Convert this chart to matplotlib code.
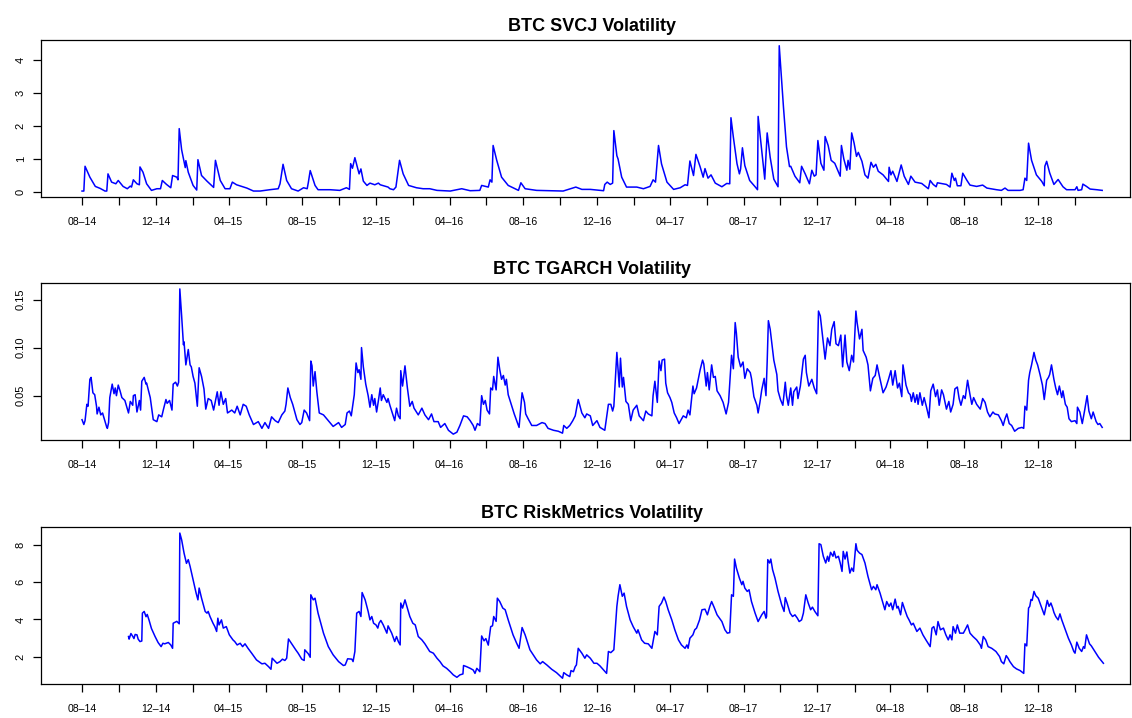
import numpy as np
import pandas as pd
import matplotlib
matplotlib.use("Agg")
import matplotlib.pyplot as plt

plt.rcParams['font.family'] = ['Liberation Sans', 'DejaVu Sans']

# day offset from 2014-08-01, volatility value
start = np.datetime64('2014-08-01')

svcj = [(0,0.03),(3,0.03),(5,0.78),(13,0.45),(22,0.17),(30,0.11),(38,0.03),(41,0.03),(43,0.55),(49,0.30),
        (56,0.25),(60,0.35),(68,0.17),(75,0.10),(80,0.18),(82,0.15),(85,0.37),(91,0.25),(95,0.22),(96,0.76),
        (101,0.60),(107,0.25),(115,0.05),(124,0.10),(130,0.10),(133,0.35),(140,0.23),(147,0.13),(150,0.50),(157,0.45),
        (159,0.37),(161,1.92),(165,1.28),(171,0.74),(172,0.95),(176,0.60),(184,0.20),(190,0.06),(192,0.98),(198,0.50),
        (207,0.33),(218,0.14),(221,0.96),(229,0.35),(237,0.10),(245,0.10),(249,0.30),(256,0.22),(273,0.12),(284,0.03),
        (295,0.03),(311,0.07),(325,0.10),(328,0.25),(333,0.84),(339,0.35),(347,0.10),(358,0.03),(367,0.13),(373,0.10),
        (375,0.30),(378,0.65),(386,0.20),(391,0.07),(411,0.07),(427,0.05),(438,0.13),(443,0.08),(445,0.86),(448,0.72),
        (452,1.04),(459,0.55),(462,0.70),(466,0.33),(472,0.20),(477,0.27),(485,0.22),(491,0.27),(494,0.22),(507,0.15),
        (510,0.10),(516,0.07),(520,0.15),(526,0.96),(532,0.55),(541,0.20),(554,0.13),(565,0.10),(576,0.10),(588,0.05),
        (610,0.03),(629,0.10),(643,0.04),(659,0.05),(662,0.20),(673,0.15),(676,0.37),(679,0.30),(681,1.41),(687,0.96),
        (695,0.45),(706,0.20),(723,0.05),(727,0.28),(734,0.10),(753,0.05),(775,0.04),(797,0.03),(818,0.15),(828,0.08),
        (842,0.08),(864,0.04),(866,0.23),(870,0.30),(875,0.23),(879,0.27),(881,1.86),(886,1.10),(888,1.00),(894,0.45),
        (902,0.15),(919,0.15),(930,0.10),(941,0.17),(946,0.37),(950,0.30),(955,1.41),(960,0.85),(969,0.30),(980,0.08),
        (991,0.13),(999,0.22),(1003,0.20),(1007,0.94),(1013,0.50),(1017,1.14),(1024,0.76),(1029,0.45),(1032,0.71),(1037,0.42),
        (1042,0.52),(1049,0.27),(1060,0.16),(1068,0.26),(1073,0.25),(1075,2.25),(1079,1.66),(1085,0.86),(1089,0.55),(1091,0.70),
        (1094,1.34),(1098,0.80),(1106,0.35),(1115,0.16),(1119,0.07),(1120,2.29),(1126,1.26),(1131,0.39),(1135,1.79),(1140,1.05),
        (1146,0.39),(1153,0.16),(1155,4.43),(1162,2.57),(1167,1.37),(1172,0.77),(1174,0.78),(1181,0.48),(1189,0.28),(1192,0.78),
        (1198,0.55),(1205,0.25),(1209,0.66),(1213,0.48),(1216,0.52),(1219,1.56),(1224,0.87),(1229,0.66),(1231,1.68),(1236,1.41),
        (1241,0.96),(1247,0.87),(1256,0.48),(1258,1.41),(1262,1.00),(1267,0.66),(1269,0.96),(1272,0.69),(1275,1.79),(1279,1.48),
        (1283,1.08),(1286,1.20),(1292,0.93),(1297,0.52),(1302,0.42),(1307,0.90),(1311,0.75),(1315,0.84),(1319,0.63),(1327,0.52),
        (1336,0.32),(1337,0.75),(1340,0.52),(1343,0.63),(1350,0.32),(1357,0.82),(1362,0.48),(1369,0.23),(1373,0.48),(1380,0.30),
        (1391,0.26),(1402,0.10),(1405,0.35),(1410,0.23),(1415,0.16),(1417,0.28),(1432,0.23),(1438,0.15),(1441,0.57),(1445,0.35),
        (1447,0.42),(1450,0.19),(1456,0.19),(1459,0.57),(1466,0.35),(1471,0.21),(1482,0.17),(1492,0.21),(1499,0.12),(1515,0.07),
        (1523,0.05),(1529,0.12),(1534,0.05),(1554,0.05),(1559,0.07),(1562,0.42),(1565,0.35),(1568,1.48),(1573,0.96),(1581,0.52),
        (1590,0.32),(1594,0.19),(1595,0.78),(1598,0.93),(1603,0.58),(1610,0.23),(1617,0.38),(1625,0.16),(1631,0.07),(1645,0.07),
        (1648,0.16),(1650,0.05),(1656,0.07),(1658,0.24),(1664,0.17),(1670,0.09),(1681,0.07),(1690,0.05)]

tgarch = [(0,0.025),(3,0.020),(5,0.024),(8,0.041),(10,0.039),(13,0.067),(15,0.069),(18,0.053),(21,0.051),(24,0.039),
          (25,0.031),(28,0.038),(31,0.030),(34,0.032),(41,0.017),(42,0.016),(44,0.022),(46,0.048),(50,0.062),(53,0.052),
          (55,0.058),(57,0.050),(60,0.061),(63,0.055),(66,0.048),(71,0.045),(77,0.032),(80,0.044),(84,0.040),(85,0.050),
          (88,0.051),(91,0.033),(95,0.045),(97,0.035),(99,0.065),(103,0.069),(106,0.062),(107,0.063),(113,0.048),(118,0.025),
          (124,0.023),(127,0.030),(132,0.028),(135,0.036),(139,0.046),(141,0.042),(145,0.045),(149,0.035),(151,0.062),(155,0.064),
          (158,0.060),(160,0.064),(162,0.161),(165,0.133),(168,0.103),(169,0.106),(172,0.082),(173,0.086),(176,0.098),(179,0.082),
          (181,0.080),(184,0.070),(187,0.063),(191,0.039),(194,0.079),(198,0.070),(202,0.057),(205,0.036),(209,0.047),(214,0.045),
          (218,0.035),(224,0.054),(227,0.040),(230,0.054),(234,0.041),(238,0.047),(241,0.032),(248,0.035),(253,0.032),(257,0.039),
          (262,0.030),(267,0.041),(272,0.039),(277,0.030),(284,0.020),(292,0.023),(298,0.016),(303,0.022),(309,0.016),(314,0.028),
          (320,0.024),(325,0.022),(331,0.030),(336,0.034),(338,0.041),(341,0.058),(345,0.048),(349,0.041),(356,0.025),(361,0.020),
          (364,0.022),(368,0.035),(372,0.032),(377,0.024),(379,0.086),(381,0.081),(383,0.060),(386,0.075),(389,0.054),(393,0.032),
          (400,0.030),(408,0.024),(416,0.018),(425,0.022),(430,0.017),(436,0.020),(439,0.032),(443,0.034),(446,0.029),(451,0.051),
          (454,0.084),(457,0.074),(459,0.077),(462,0.067),(463,0.100),(466,0.080),(470,0.062),(474,0.050),(477,0.038),(480,0.051),
          (483,0.040),(485,0.047),(488,0.033),(491,0.045),(494,0.058),(496,0.045),(499,0.051),(505,0.043),(507,0.047),(510,0.040),
          (518,0.024),(521,0.037),(524,0.029),(527,0.026),(528,0.076),(531,0.060),(535,0.081),(539,0.058),(543,0.039),(547,0.044),
          (550,0.037),(557,0.030),(563,0.037),(568,0.030),(574,0.025),(579,0.031),(583,0.023),(590,0.023),(594,0.017),(601,0.021),
          (607,0.014),(615,0.010),(621,0.012),(626,0.019),(632,0.029),(638,0.028),(643,0.024),(648,0.019),(651,0.014),(655,0.021),
          (659,0.019),(662,0.050),(665,0.041),(668,0.045),(671,0.035),(675,0.031),(677,0.058),(680,0.056),(682,0.070),(686,0.056),
          (689,0.090),(692,0.077),(695,0.067),(698,0.071),(701,0.061),(703,0.067),(706,0.051),(712,0.039),(716,0.031),(720,0.024),
          (724,0.017),(729,0.053),(733,0.043),(735,0.031),(739,0.026),(745,0.019),(753,0.019),(762,0.022),(767,0.021),(772,0.016),
          (781,0.014),(789,0.013),(796,0.011),(798,0.019),(803,0.016),(808,0.019),(813,0.024),(817,0.029),(822,0.046),(828,0.032),
          (833,0.027),(836,0.031),(842,0.029),(846,0.019),(853,0.024),(858,0.017),(866,0.014),(872,0.041),(876,0.041),(879,0.034),
          (881,0.039),(886,0.095),(890,0.059),(892,0.089),(895,0.059),(897,0.069),(901,0.044),(905,0.041),(909,0.024),(913,0.035),
          (919,0.040),(923,0.029),(930,0.024),(934,0.034),(938,0.031),(944,0.029),(946,0.050),(949,0.065),(953,0.043),(956,0.086),
          (959,0.076),(961,0.087),(965,0.088),(967,0.063),(970,0.053),(974,0.048),(977,0.043),(981,0.032),(985,0.027),(989,0.021),
          (996,0.029),(1001,0.027),(1004,0.035),(1007,0.030),(1012,0.060),(1014,0.052),(1018,0.058),(1024,0.077),(1028,0.087),(1030,0.083),
          (1034,0.060),(1036,0.074),(1039,0.056),(1043,0.082),(1046,0.069),(1049,0.070),(1052,0.055),(1057,0.050),(1062,0.043),(1067,0.031),
          (1071,0.043),(1076,0.092),(1079,0.078),(1082,0.126),(1084,0.115),(1087,0.090),(1091,0.080),(1095,0.085),(1098,0.068),(1102,0.078),
          (1107,0.074),(1109,0.068),(1113,0.049),(1118,0.040),(1120,0.032),(1123,0.043),(1126,0.056),(1130,0.068),(1133,0.050),(1135,0.085),
          (1137,0.128),(1140,0.119),(1143,0.103),(1146,0.087),(1151,0.072),(1153,0.055),(1157,0.046),(1161,0.040),(1165,0.064),(1167,0.050),
          (1170,0.040),(1174,0.058),(1177,0.040),(1179,0.054),(1184,0.059),(1186,0.047),(1190,0.060),(1195,0.088),(1198,0.092),(1200,0.074),
          (1204,0.060),(1209,0.067),(1213,0.058),(1217,0.052),(1220,0.138),(1223,0.133),(1227,0.110),(1231,0.088),(1235,0.110),(1239,0.102),
          (1242,0.119),(1246,0.127),(1249,0.104),(1253,0.102),(1257,0.113),(1260,0.080),(1264,0.113),(1267,0.085),(1271,0.076),(1275,0.092),
          (1278,0.085),(1282,0.138),(1284,0.126),(1288,0.109),(1292,0.119),(1294,0.097),(1299,0.090),(1302,0.082),(1306,0.055),(1310,0.068),
          (1314,0.071),(1317,0.082),(1321,0.070),(1327,0.053),(1332,0.059),(1336,0.067),(1340,0.076),(1343,0.061),(1347,0.076),(1351,0.058),
          (1354,0.063),(1358,0.049),(1360,0.082),(1365,0.061),(1369,0.053),(1372,0.051),(1374,0.044),(1377,0.053),(1380,0.043),(1383,0.051),
          (1385,0.041),(1388,0.053),(1392,0.040),(1395,0.048),(1399,0.038),(1403,0.027),(1406,0.055),(1410,0.062),(1414,0.049),(1417,0.056),
          (1420,0.040),(1424,0.056),(1427,0.051),(1432,0.036),(1436,0.044),(1439,0.033),(1443,0.041),(1446,0.057),(1450,0.059),(1453,0.047),
          (1456,0.040),(1460,0.050),(1463,0.047),(1467,0.066),(1471,0.051),(1474,0.041),(1477,0.048),(1482,0.041),(1488,0.036),(1492,0.047),
          (1496,0.043),(1500,0.033),(1504,0.028),(1509,0.033),(1512,0.031),(1518,0.030),(1523,0.024),(1526,0.019),(1529,0.026),(1532,0.031),
          (1536,0.021),(1540,0.019),(1545,0.013),(1551,0.016),(1557,0.017),(1560,0.016),(1562,0.039),(1565,0.035),(1568,0.066),(1570,0.074),
          (1573,0.082),(1577,0.095),(1580,0.087),(1583,0.082),(1587,0.072),(1591,0.061),(1594,0.046),(1598,0.066),(1601,0.069),(1603,0.072),
          (1606,0.082),(1610,0.067),(1613,0.058),(1616,0.051),(1619,0.060),(1623,0.048),(1625,0.055),(1629,0.041),(1632,0.038),(1635,0.026),
          (1639,0.023),(1645,0.024),(1648,0.021),(1649,0.038),(1653,0.033),(1657,0.021),(1661,0.035),(1665,0.050),(1668,0.034),(1672,0.026),
          (1675,0.033),(1680,0.023),(1683,0.020),(1686,0.021),(1690,0.017)]

riskmetrics = [(77,3.09),(78,2.95),(81,3.25),(84,3.10),(86,2.98),(88,3.20),(91,3.18),(93,2.95),(96,2.82),(99,2.85),
               (100,4.34),(103,4.43),(106,4.15),(108,4.27),(111,3.97),(115,3.52),(121,3.09),(126,2.77),(131,2.55),(134,2.73),
               (137,2.70),(143,2.77),(147,2.64),(150,2.46),(151,3.80),(157,3.90),(161,3.77),(162,8.62),(165,8.26),(169,7.55),
               (173,7.00),(176,7.20),(179,6.84),(184,6.13),(189,5.41),(192,5.05),(194,5.68),(198,5.14),(204,4.43),(207,4.34),
               (209,4.43),(212,4.16),(217,3.80),(220,3.62),(223,3.36),(225,4.07),(227,3.71),(231,3.98),(234,3.54),(239,3.62),
               (244,3.18),(250,2.91),(253,2.82),(257,2.64),(262,2.73),(266,2.55),(270,2.70),(275,2.46),(281,2.20),(289,1.84),
               (298,1.63),(303,1.66),(309,1.48),(313,1.34),(315,1.93),(323,1.66),(328,1.75),(332,1.88),(336,1.81),(339,1.93),
               (342,2.96),(350,2.57),(354,2.38),(358,2.20),(364,1.88),(368,1.81),(369,2.38),(375,2.16),(378,1.98),(379,5.32),
               (383,5.05),(386,5.14),(391,4.34),(400,3.27),(408,2.55),(416,2.11),(425,1.75),(433,1.54),(436,1.57),(440,1.90),
               (447,1.88),(449,1.75),(452,2.29),(455,4.34),(459,4.43),(462,4.16),(464,5.44),(469,5.05),(474,4.43),(477,3.98),
               (480,4.16),(483,3.80),(487,3.71),(490,3.54),(492,3.80),(495,3.95),(499,3.71),(505,3.27),(507,3.66),(513,3.27),
               (518,2.82),(521,3.09),(524,2.82),(527,2.64),(528,4.88),(531,4.61),(535,5.05),(539,4.61),(543,4.16),(548,3.80),
               (552,3.71),(557,3.09),(563,2.91),(568,2.70),(576,2.29),(582,2.20),(588,1.93),(593,1.75),(598,1.52),(604,1.39),
               (610,1.21),(615,1.04),(621,0.91),(626,1.04),(631,1.09),(632,1.54),(637,1.48),(643,1.39),(648,1.30),(651,1.12),
               (654,1.39),(659,1.21),(662,3.12),(666,2.86),(669,2.98),(673,2.63),(677,3.62),(680,3.66),(682,4.16),(686,3.90),
               (688,5.14),(692,4.96),(697,4.61),(701,4.52),(706,3.98),(714,3.18),(720,2.73),(724,2.46),(729,3.57),(734,3.18),
               (742,2.38),(753,1.84),(759,1.63),(763,1.75),(770,1.57),(778,1.34),(786,1.16),(796,0.86),(798,1.16),(803,1.04),
               (808,0.95),(810,1.27),(814,1.21),(817,1.48),(819,1.57),(822,2.46),(828,2.20),(833,1.93),(836,2.11),(842,1.93),
               (848,1.66),(853,1.66),(858,1.52),(864,1.30),(869,1.12),(872,2.29),(876,2.23),(881,2.38),(886,4.70),(888,5.24),
               (891,5.86),(895,5.24),(898,5.41),(902,4.70),(908,3.98),(913,3.62),(919,3.27),(921,3.45),(927,2.91),(932,2.73),
               (938,2.70),(944,2.46),(946,2.82),(949,3.36),(953,3.18),(956,4.70),(960,4.88),(964,5.20),(967,4.96),(971,4.52),
               (977,3.98),(982,3.45),(988,2.91),(993,2.64),(999,2.46),(1002,2.64),(1004,2.46),(1007,3.00),(1012,3.18),(1015,3.45),
               (1018,3.54),(1023,3.98),(1027,4.52),(1032,4.55),(1036,4.25),(1040,4.70),(1043,4.96),(1047,4.66),(1052,4.25),(1060,3.89),
               (1065,3.45),(1069,3.27),(1073,3.30),(1076,5.32),(1079,5.24),(1081,7.23),(1084,6.75),(1089,6.21),(1093,5.86),(1095,6.04),
               (1098,5.68),(1102,5.50),(1105,5.59),(1109,4.96),(1115,4.34),(1120,3.89),(1126,4.25),(1130,4.43),(1133,4.07),(1134,4.16),
               (1136,7.20),(1139,7.02),(1141,7.23),(1144,6.66),(1148,6.21),(1153,5.50),(1159,4.79),(1163,4.43),(1165,5.17),(1168,4.88),
               (1173,4.34),(1177,4.16),(1181,4.25),(1185,4.07),(1188,3.89),(1192,3.98),(1195,4.34),(1199,5.32),(1203,4.88),(1207,4.52),
               (1210,4.66),(1214,4.43),(1219,4.20),(1221,8.05),(1224,8.00),(1228,7.38),(1232,7.02),(1235,7.38),(1237,7.11),(1240,7.59),
               (1244,7.38),(1246,7.64),(1249,7.29),(1253,7.38),(1256,7.02),(1259,6.57),(1261,7.64),(1264,7.23),(1267,7.61),(1269,7.11),
               (1272,6.48),(1275,6.75),(1278,6.57),(1282,8.05),(1284,7.70),(1288,7.55),(1292,7.47),(1297,7.02),(1302,6.30),(1308,5.59),
               (1311,5.77),(1315,5.59),(1317,5.86),(1322,5.41),(1326,4.96),(1330,4.52),(1333,4.96),(1337,4.70),(1340,4.88),(1343,4.52),
               (1347,5.09),(1350,4.61),(1352,4.70),(1356,4.25),(1359,4.91),(1363,4.52),(1367,4.16),(1370,3.98),(1374,3.71),(1377,3.80),
               (1383,3.36),(1388,3.54),(1393,3.18),(1398,2.91),(1405,2.55),(1408,3.54),(1411,3.62),(1415,3.18),(1418,3.89),(1422,3.45),
               (1427,3.54),(1431,3.18),(1435,2.91),(1438,3.18),(1441,2.91),(1443,3.62),(1447,3.27),(1450,3.71),(1454,3.27),(1460,3.27),
               (1463,3.45),(1467,3.71),(1471,3.27),(1476,3.09),(1482,2.91),(1488,2.64),(1490,2.46),(1493,3.09),(1497,2.91),(1501,2.55),
               (1507,2.46),(1514,2.29),(1520,2.02),(1523,1.75),(1527,1.63),(1531,2.07),(1534,1.93),(1537,1.75),(1543,1.48),(1548,1.36),
               (1554,1.27),(1560,1.12),(1562,2.70),(1565,2.59),(1568,4.61),(1570,4.70),(1572,5.07),(1574,5.02),(1577,5.50),(1580,5.27),
               (1584,5.14),(1588,4.79),(1591,4.52),(1594,4.25),(1597,4.70),(1599,5.02),(1602,4.70),(1605,4.88),(1608,4.61),(1610,4.38),
               (1613,4.16),(1617,3.98),(1620,4.30),(1623,3.98),(1628,3.54),(1634,3.00),(1639,2.64),(1643,2.29),(1645,2.20),(1648,2.79),
               (1652,2.46),(1656,2.29),(1659,2.55),(1661,2.46),(1664,3.18),(1669,2.70),(1672,2.59),(1678,2.29),(1684,1.98),(1692,1.66)]

titles = ["BTC SVCJ Volatility", "BTC TGARCH Volatility", "BTC RiskMetrics Volatility"]
series = [svcj, tgarch, riskmetrics]
y_ticks = [[0, 1, 2, 3, 4], [0.05, 0.10, 0.15], [2, 4, 6, 8]]
y_ticklabels = [["0", "1", "2", "3", "4"], ["0.05", "0.10", "0.15"], ["2", "4", "6", "8"]]
y_limits = [(-0.151, 4.604), (0.0039, 0.1672), (0.554, 8.947)]

tick_dates = pd.date_range('2014-08-01', '2019-02-01', freq='2MS')
tick_labels = [d.strftime('%m\u2013%y') if d.month in (4, 8, 12) else '' for d in tick_dates]

fig = plt.figure(figsize=(11.32, 7.18), dpi=100)
bottoms = [0.7256, 0.3872, 0.0474]

for i in range(3):
    ax = fig.add_axes([0.0362, bottoms[i], 0.962, 0.2187])
    days = np.array([p[0] for p in series[i]])
    vals = np.array([p[1] for p in series[i]])
    dates = start + days.astype('timedelta64[D]')
    ax.plot(dates, vals, color='#0000FF', linewidth=1.1)

    ax.set_xlim(start - np.timedelta64(68, 'D'), start + np.timedelta64(1736, 'D'))
    ax.set_ylim(*y_limits[i])
    ax.set_xticks(tick_dates)
    ax.set_xticklabels(tick_labels)
    ax.set_yticks(y_ticks[i])
    ax.set_yticklabels(y_ticklabels[i])
    ax.tick_params(axis='x', length=6, width=0.9, pad=8.5, labelsize=7.6)
    ax.tick_params(axis='y', length=6, width=0.9, pad=5, labelsize=8)
    for lab in ax.get_yticklabels():
        lab.set_rotation(90)
        lab.set_va('center')
    for s in ax.spines.values():
        s.set_linewidth(0.9)
    ax.text(0.5057, 1.059, titles[i], transform=ax.transAxes, ha='center', va='baseline',
            fontsize=13, fontweight='bold')

fig.savefig('out.png', dpi=100)
